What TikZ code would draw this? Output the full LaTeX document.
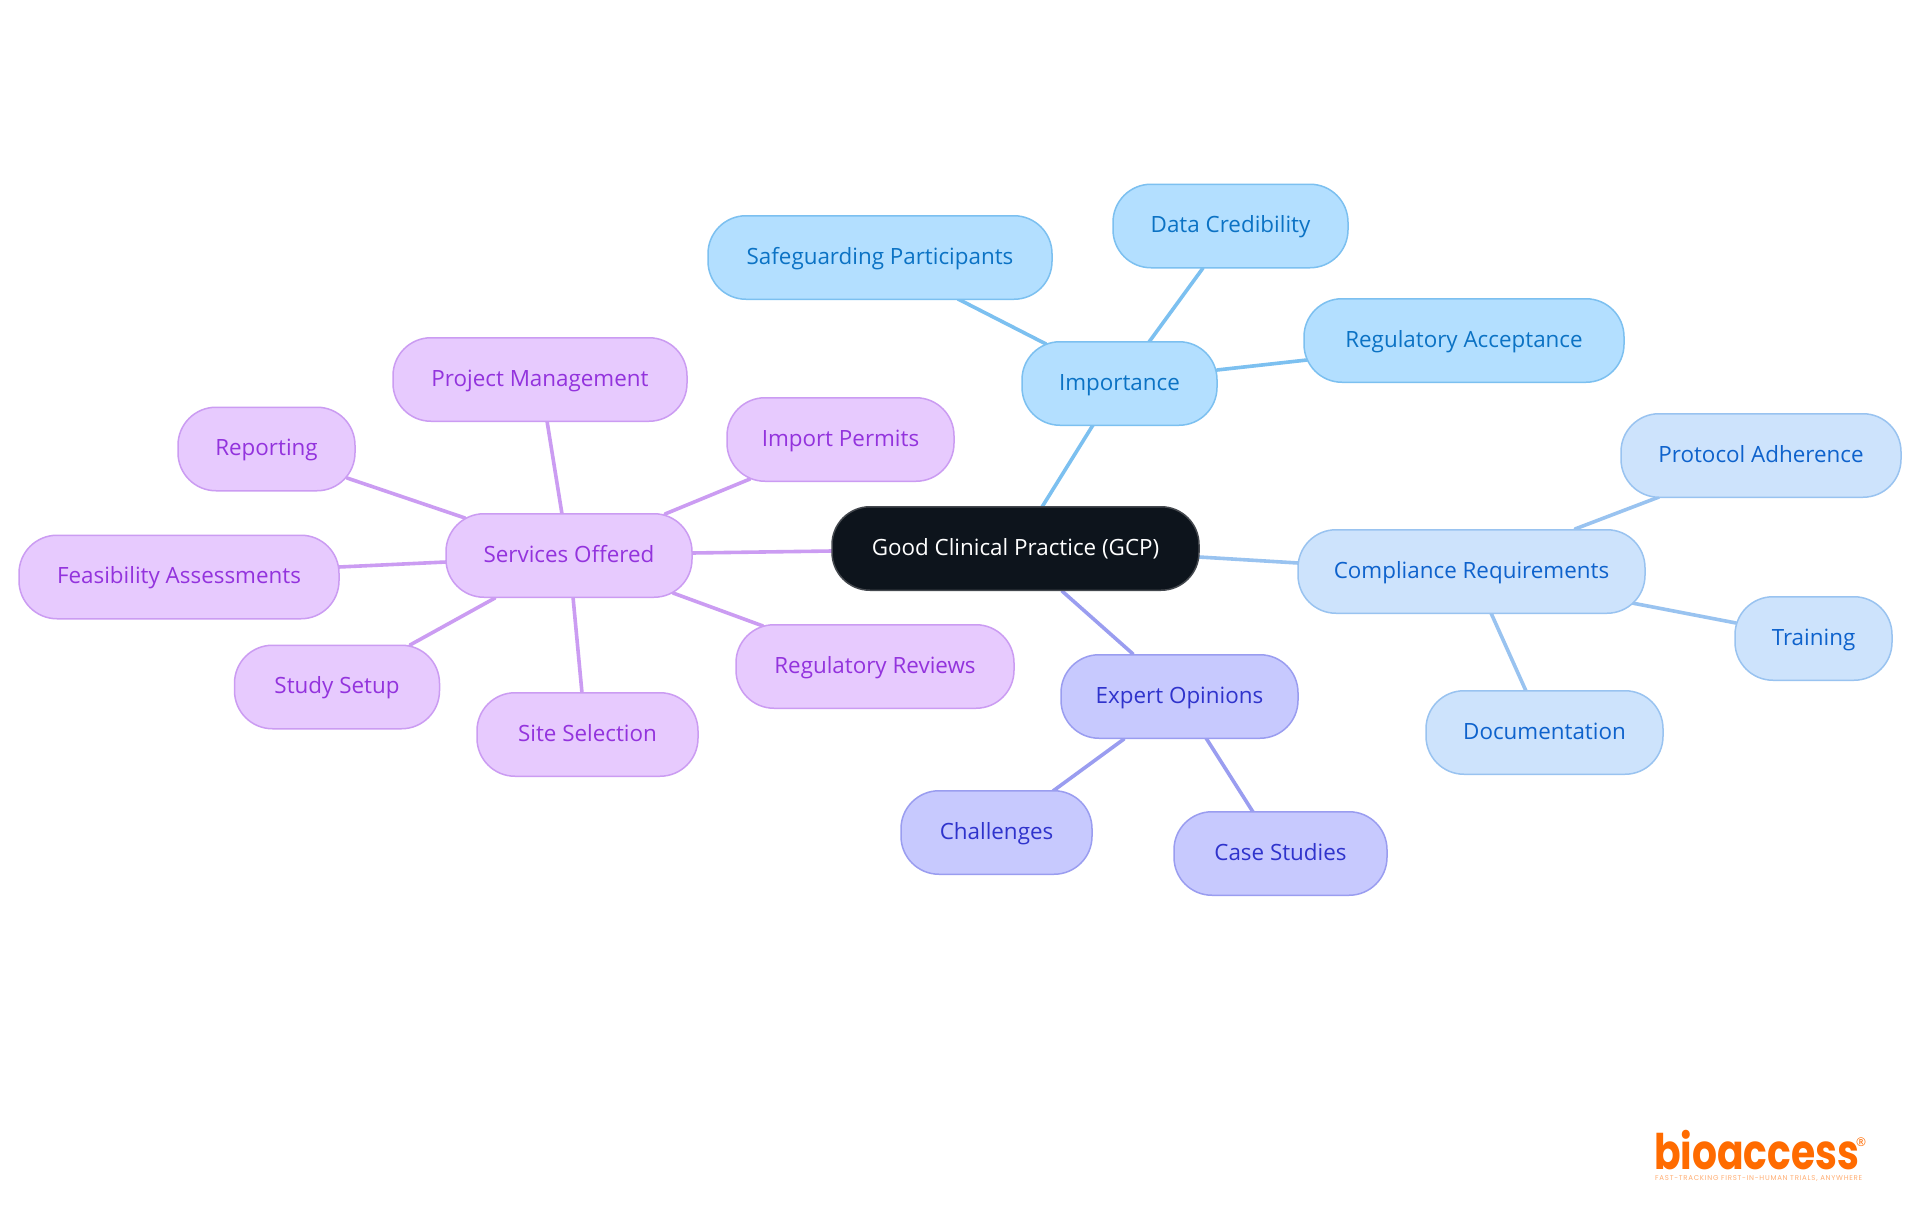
\documentclass[tikz,border=0pt]{standalone}
\usepackage{fontspec}
\setmainfont{Open Sans}
\newfontfamily\logofont[FakeStretch=0.8]{Poppins}
\newfontfamily\tagfont[LetterSpace=10.5]{Poppins}
\usetikzlibrary{backgrounds}
\definecolor{purF}{HTML}{E7CAFE}\definecolor{purD}{HTML}{CB9CF2}\definecolor{purT}{HTML}{9333DD}
\definecolor{bluF}{HTML}{B3DFFF}\definecolor{bluD}{HTML}{7CC0F0}\definecolor{bluT}{HTML}{0B72C4}
\definecolor{cmpF}{HTML}{CDE3FC}\definecolor{cmpD}{HTML}{99C3F0}\definecolor{cmpT}{HTML}{0E62CC}
\definecolor{indF}{HTML}{C7C9FE}\definecolor{indD}{HTML}{9A9DF0}\definecolor{indT}{HTML}{2F33CC}
\definecolor{rootF}{HTML}{0D141C}\definecolor{rootD}{HTML}{44484E}
\definecolor{logoC}{HTML}{FF6B00}
\tikzset{
  pill/.style={rectangle,rounded corners=38pt,minimum height=83.5pt,inner sep=0pt,outer sep=0pt,
    line width=1.5pt,text height=19pt,text depth=6pt,font=\fontsize{22.4}{27}\selectfont},
  purN/.style={pill,fill=purF,draw=purD,text=purT},
  bluN/.style={pill,fill=bluF,draw=bluD,text=bluT},
  cmpN/.style={pill,fill=cmpF,draw=cmpD,text=cmpT},
  indN/.style={pill,fill=indF,draw=indD,text=indT},
  rootN/.style={pill,fill=rootF,draw=rootD,text=white},
  conn/.style={line width=3.6pt,line cap=round},
}
\newcommand{\lnk}[5]{\draw[conn,#1] ([shift={(#3)}]#2.center) -- ([shift={(#5)}]#4.center);}
\begin{document}
\begin{tikzpicture}[x=1pt,y=-1pt]
\useasboundingbox (0,0) rectangle (1920,1215);
\node[rootN,minimum width=367pt] (root) at (1015.5,548.5) {Good Clinical Practice (GCP)};
\node[bluN,minimum width=195pt] (imp) at (1119.5,383.5) {Importance};
\node[bluN,minimum width=344pt] (safe) at (880,257.5) {Safeguarding Participants};
\node[bluN,minimum width=235pt] (data) at (1230.5,226) {Data Credibility};
\node[bluN,minimum width=320pt] (acc) at (1464,340.5) {Regulatory Acceptance};
\node[cmpN,minimum width=347pt] (comp) at (1471.5,571.5) {Compliance Requirements};
\node[cmpN,minimum width=280pt] (prot) at (1761,455.5) {Protocol Adherence};
\node[cmpN,minimum width=157pt] (train) at (1813.5,638.5) {Training};
\node[cmpN,minimum width=237pt] (doc) at (1544.5,732.5) {Documentation};
\node[indN,minimum width=237pt] (exp) at (1179.5,696.5) {Expert Opinions};
\node[indN,minimum width=191pt] (chal) at (996.5,832.5) {Challenges};
\node[indN,minimum width=213pt] (case) at (1280.5,853.5) {Case Studies};
\node[purN,minimum width=246pt] (serv) at (569,555.5) {Services Offered};
\node[purN,minimum width=294pt] (proj) at (540,379.5) {Project Management};
\node[purN,minimum width=227pt] (perm) at (840.5,439.5) {Import Permits};
\node[purN,minimum width=278pt] (rev) at (875,666.5) {Regulatory Reviews};
\node[purN,minimum width=221pt] (site) at (587.5,734.5) {Site Selection};
\node[purN,minimum width=205pt] (study) at (337,687) {Study Setup};
\node[purN,minimum width=320pt] (feas) at (179,577) {Feasibility Assessments};
\node[purN,minimum width=177pt] (rep) at (266.5,449) {Reporting};
\begin{pgfonlayer}{background}
\fill[white] (0,0) rectangle (1920,1215);
\lnk{bluD}{root}{26.5,-41.5}{imp}{-26.5,41.5}
\lnk{cmpD}{root}{183.5,8.5}{comp}{-173.5,-8.5}
\lnk{indD}{root}{46.5,42.5}{exp}{-46.5,-42.5}
\lnk{purD}{root}{-183.5,2.5}{serv}{123,-2.5}
\lnk{purD}{serv}{-7,-41.5}{proj}{7,41.5}
\lnk{purD}{serv}{96,-41.5}{perm}{-90.5,39.5}
\lnk{purD}{serv}{104,37.5}{rev}{-112,-40.5}
\lnk{purD}{serv}{4,41.5}{site}{-5.5,-41.5}
\lnk{purD}{serv}{-74,42.5}{study}{73,-42}
\lnk{purD}{serv}{-123,6.5}{feas}{160,-10}
\lnk{purD}{serv}{-104,-37.5}{rep}{80.5,29}
\lnk{bluD}{imp}{-73.5,-39.5}{safe}{78,41.5}
\lnk{bluD}{imp}{29.5,-41.5}{data}{-27.5,42}
\lnk{bluD}{imp}{97.5,-13.5}{acc}{-157,19.5}
\lnk{cmpD}{comp}{103.5,-42.5}{prot}{-102,41.5}
\lnk{cmpD}{comp}{160.5,31.5}{train}{-77.5,-15.5}
\lnk{cmpD}{comp}{19.5,41.5}{doc}{-18.5,-41.5}
\lnk{indD}{exp}{-55.5,42.5}{chal}{56.5,-41.5}
\lnk{indD}{exp}{26.5,41.5}{case}{-27.5,-41.5}
\end{pgfonlayer}
\node[anchor=base west,inner sep=0pt,text=logoC,text depth=0pt,font=\logofont\bfseries\fontsize{49}{49}\selectfont] (logo) at (1654,1169) {bioaccess};
\node[anchor=center,inner sep=0pt,text=logoC,font=\fontsize{12}{12}\selectfont] (reg) at (1861,1142) {®};
\node[anchor=base west,inner sep=0pt,text=logoC!55,text height=5pt,font=\tagfont\fontsize{7}{7}\selectfont] (tag) at (1655,1180) {FAST-TRACKING FIRST-IN-HUMAN TRIALS, ANYWHERE};
\end{tikzpicture}
\end{document}
